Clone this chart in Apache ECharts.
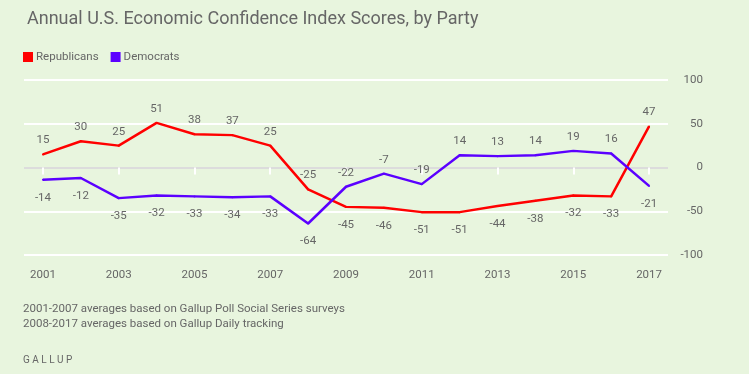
<!DOCTYPE html>
<html><head><meta charset="utf-8">
<script src="https://cdn.jsdelivr.net/npm/echarts@6/dist/echarts.min.js"></script>
<style>html,body{margin:0;padding:0;background:#e8f5de;}#c{width:749px;height:374px;}</style>
</head><body><div id="c"></div>
<script>
const years = ['2001','2002','2003','2004','2005','2006','2007','2008','2009','2010','2011','2012','2013','2014','2015','2016','2017'];
const republicans = [15,30,25,51,38,37,25,-25,-45,-46,-51,-51,-44,-38,-32,-33,47];
const democrats = [-14,-12,-35,-32,-33,-34,-33,-64,-22,-7,-19,14,13,14,19,16,-21];
const yTicks = [-100,-50,0,50,100];

function withLabels(vals, other){
  return vals.map((v,i)=>{
    const top = v >= other[i];
    return {value:v, label:{position: top ? 'top' : 'bottom', distance: top ? 7 : 11}};
  });
}
const chart = echarts.init(document.getElementById('c'));
const txt = '#666';
const lbl = {show:true, color:txt, fontFamily:'Roboto', fontSize:11.5};
chart.setOption({
  backgroundColor:'#e8f5de',
  animation:false,
  title:{text:'Annual U.S. Economic Confidence Index Scores, by Party', left:22, top:5,
    textStyle:{fontFamily:'Roboto', fontSize:18, fontWeight:'normal', color:'#666'}},
  legend:{left:18, top:46, itemWidth:10, itemHeight:10, itemGap:12, icon:'rect',
    textStyle:{fontFamily:'Roboto', fontSize:11.5, color:txt, padding:[0,0,0,-2]},
    data:['Republicans','Democrats']},
  grid:{left:24, right:81, top:80, bottom:119},
  xAxis:{type:'category', data:years, boundaryGap:true,
    axisLine:{show:false},
    axisTick:{show:true, interval:1, alignWithLabel:true, length:7, lineStyle:{color:'#fff', width:2}},
    axisLabel:{interval:1, color:txt, fontFamily:'Roboto', fontSize:11.5, margin:14}},
  yAxis:{type:'value', position:'right', min:-100, max:100, interval:50,
    axisLine:{show:false}, axisTick:{show:false},
    axisLabel:{color:txt, fontFamily:'Roboto', fontSize:11.5, align:'right', margin:35,
      formatter:v=>yTicks.includes(v)?String(v):''},
    splitLine:{lineStyle:{color:['#fff','#fff','#dcdcdc','#fff','#fff'], width:2}}},
  series:[
    {name:'Republicans', type:'line', data:withLabels(republicans, democrats), symbol:'circle', symbolSize:2, showSymbol:true,
      lineStyle:{color:'#ff0000', width:2.5}, itemStyle:{color:'#ff0000', borderWidth:0},
      label:lbl},
    {name:'Democrats', type:'line', data:withLabels(democrats, republicans), symbol:'circle', symbolSize:2, showSymbol:true,
      lineStyle:{color:'#5b00ff', width:2.5}, itemStyle:{color:'#5b00ff', borderWidth:0},
      label:lbl}
  ],
  graphic:[
    {type:'text', left:23, top:302, style:{text:'2001-2007 averages based on Gallup Poll Social Series surveys\n2008-2017 averages based on Gallup Daily tracking', fill:txt, font:'11.5px Roboto', lineHeight:15}},
    {type:'text', left:23, top:355, style:{text:'G A L L U P', fill:txt, font:'10px Roboto'}}
  ]
});
</script></body></html>
